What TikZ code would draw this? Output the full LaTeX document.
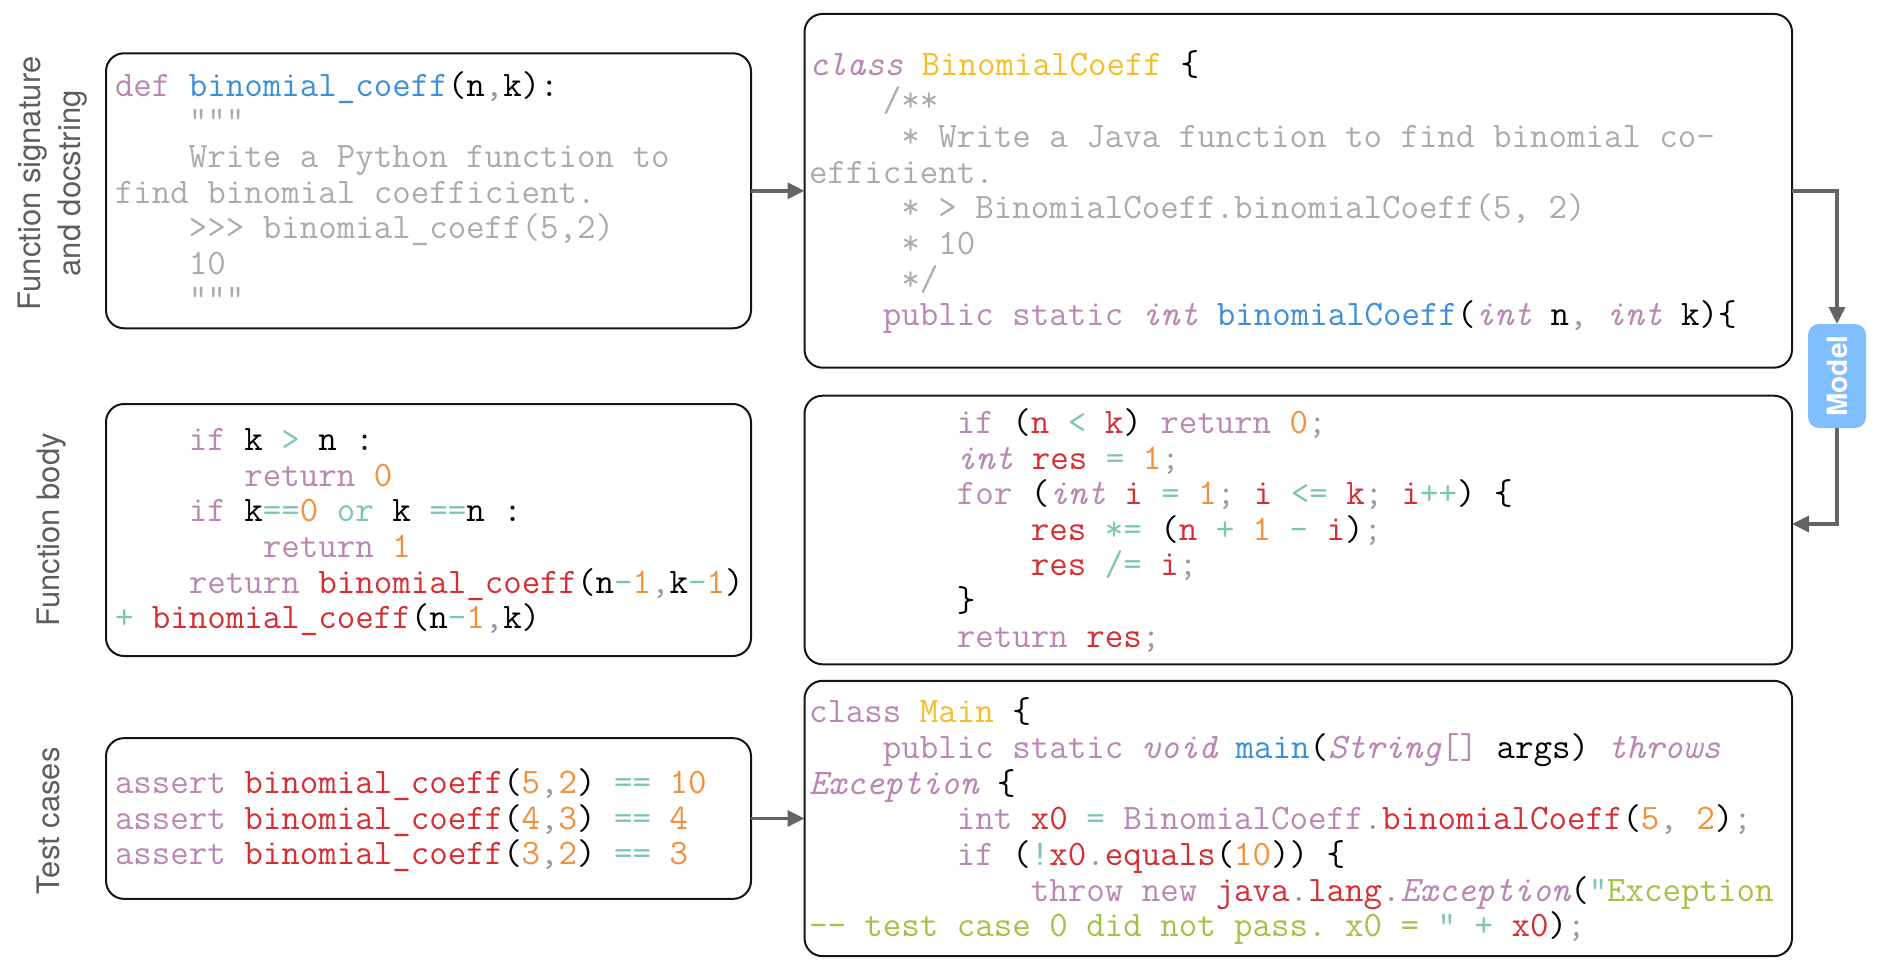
\documentclass[tikz,border=0pt]{standalone}
\usepackage{fontspec}
\newfontfamily\lblfont{TeX Gyre Heros}
\usetikzlibrary{arrows.meta}
\definecolor{ckw}{HTML}{BA86B4}
\definecolor{cfn}{HTML}{3B8ED8}
\definecolor{crd}{HTML}{D42E33}
\definecolor{cog}{HTML}{F0903C}
\definecolor{ctl}{HTML}{7CC4B6}
\definecolor{ccm}{HTML}{ABABAB}
\definecolor{cyl}{HTML}{F2BE2A}
\definecolor{cgr}{HTML}{A3C147}
\definecolor{cpn}{HTML}{9A9A9A}
\definecolor{lblgray}{HTML}{5E5E5E}
\definecolor{arrgray}{HTML}{646464}
\definecolor{modelblue}{HTML}{80BEFF}
\newcommand\cK[1]{\textcolor{ckw}{#1}}
\newcommand\cKI[1]{\textcolor{ckw}{\itshape #1}}
\newcommand\cF[1]{\textcolor{cfn}{#1}}
\newcommand\cR[1]{\textcolor{crd}{#1}}
\newcommand\cN[1]{\textcolor{cog}{#1}}
\newcommand\cO[1]{\textcolor{ctl}{#1}}
\newcommand\cC[1]{\textcolor{ccm}{#1}}
\newcommand\cY[1]{\textcolor{cyl}{#1}}
\newcommand\cG[1]{\textcolor{cgr}{#1}}
\newcommand\cP[1]{\textcolor{cpn}{#1}}
\newcommand\cS[1]{\hspace*{#1\fontcharwd\font`x}}
\newcommand\codefont{\ttfamily\fontsize{35.9}{36}\selectfont\frenchspacing}
\newcommand\CLn[4]{\node[codeline] (#1) at (#2,#3) {#4};}
\tikzset{
  codebox/.style={draw=black!92, line width=2pt, rounded corners=18pt, inner sep=0pt, outer sep=0pt},
  codeline/.style={anchor=base west, inner sep=0pt, outer sep=0pt, font=\codefont, yshift=-2pt},
  lbl/.style={rotate=90, anchor=base, inner sep=0pt, font=\lblfont\fontsize{31}{31}\selectfont, text=lblgray},
  conn/.style={draw=arrgray, line width=3.5pt, -{Triangle[length=17pt,width=16pt]}},
  pill/.style={fill=modelblue, rounded corners=11pt, inner sep=0pt, outer sep=0pt}
}
\begin{document}
\begin{tikzpicture}[x=1pt,y=-1pt]
\useasboundingbox (0,0) rectangle (1878,979);
% boxes
\node[codebox, minimum width=645pt, minimum height=275pt] (b1) at (428.5,190.8) {};
\node[codebox, minimum width=987.5pt, minimum height=353.7pt] (b2) at (1298.25,190.8) {};
\node[codebox, minimum width=645pt, minimum height=252pt] (b3) at (428.5,530) {};
\node[codebox, minimum width=987.5pt, minimum height=268.6pt] (b4) at (1298.25,530) {};
\node[codebox, minimum width=645pt, minimum height=160.7pt] (b5) at (428.5,818.5) {};
\node[codebox, minimum width=987.5pt, minimum height=275.3pt] (b6) at (1298.25,818.5) {};
% model pill
\node[pill, minimum width=58pt, minimum height=104pt] (model) at (1837,376) {};
\node[rotate=90, inner sep=0pt, text=white, font=\lblfont\bfseries\fontsize{28}{28}\selectfont] (modeltxt) at (model.center) {Model};
% left labels
\node[lbl] (lab1a) at (40,183.5) {Function signature};
\node[lbl] (lab1b) at (80,183.5) {and docstring};
\node[lbl] (lab2) at (59.6,530) {Function body};
\node[lbl] (lab3) at (59.6,820.7) {Test cases};
% box 1
\CLn{a1}{115}{94.3}{\cK{def} \cF{binomial\_coeff}(n\cP{,}k):}
\CLn{a2}{115}{129.9}{\cS4\cC{"""}}
\CLn{a3}{115}{165.5}{\cS4\cC{Write a Python function to}}
\CLn{a4}{115}{201.1}{\cC{find binomial coefficient.}}
\CLn{a5}{115}{236.7}{\cS4\cC{>>> binomial\_coeff(5,2)}}
\CLn{a6}{115}{272.3}{\cS4\cC{10}}
\CLn{a7}{115}{307.9}{\cS4\cC{"""}}
% box 2
\CLn{c1}{809}{74}{\cKI{class} \cY{BinomialCoeff} \{}
\CLn{c2}{809}{109.7}{\cS4\cC{/**}}
\CLn{c3}{809}{145.4}{\cS5\cC{* Write a Java function to find binomial co-}}
\CLn{c4}{809}{181.1}{\cC{efficient.}}
\CLn{c5}{809}{216.8}{\cS5\cC{* > BinomialCoeff.binomialCoeff(5, 2)}}
\CLn{c6}{809}{252.5}{\cS5\cC{* 10}}
\CLn{c7}{809}{288.2}{\cS5\cC{*/}}
\CLn{c8}{809}{323.9}{\cS4\cK{public static} \cKI{int} \cF{binomialCoeff}(\cKI{int} n\cP{,} \cKI{int} k)\{}
% box 3
\CLn{d1}{115}{448.3}{\cS4\cK{if} k \cO{>} n :}
\CLn{d2}{115}{484}{\cS7\cK{return} \cN{0}}
\CLn{d3}{115}{519.7}{\cS4\cK{if} k\cO{==}\cN{0} \cO{or} k \cO{==}n :}
\CLn{d4}{115}{555.4}{\cS8\cK{return} \cN{1}}
\CLn{d5}{115}{591.1}{\cS4\cK{return} \cR{binomial\_coeff}(n\cO{-}\cN{1}\cP{,}k\cO{-}\cN{1})}
\CLn{d6}{115}{626.8}{\cO{+} \cR{binomial\_coeff}(n\cO{-}\cN{1}\cP{,}k)}
% box 4
\CLn{e1}{809}{431.7}{\cS8\cK{if} (\cR{n} \cO{<} \cR{k}) \cK{return} \cN{0}\cP{;}}
\CLn{e2}{809}{467.25}{\cS8\cKI{int} \cR{res} \cO{=} \cN{1}\cP{;}}
\CLn{e3}{809}{502.8}{\cS8\cK{for} (\cKI{int} \cR{i} \cO{=} \cN{1}\cP{;} \cR{i} \cO{<=} \cR{k}\cP{;} \cR{i}\cO{++}) \{}
\CLn{e4}{809}{538.35}{\cS{12}\cR{res} \cO{*=} (\cR{n} \cO{+} \cN{1} \cO{-} \cR{i})\cP{;}}
\CLn{e5}{809}{573.9}{\cS{12}\cR{res} \cO{/=} \cR{i}\cP{;}}
\CLn{e6}{809}{609.45}{\cS8\}}
\CLn{e7}{809}{645}{\cS8\cK{return} \cR{res}\cP{;}}
% box 5
\CLn{f1}{115}{791.7}{\cK{assert} \cR{binomial\_coeff}(\cN{5}\cP{,}\cN{2}) \cO{==} \cN{10}}
\CLn{f2}{115}{827.2}{\cK{assert} \cR{binomial\_coeff}(\cN{4}\cP{,}\cN{3}) \cO{==} \cN{4}}
\CLn{f3}{115}{862.7}{\cK{assert} \cR{binomial\_coeff}(\cN{3}\cP{,}\cN{2}) \cO{==} \cN{3}}
% box 6
\CLn{g1}{809}{720.7}{\cK{class} \cY{Main} \{}
\CLn{g2}{809}{756.4}{\cS4\cK{public static} \cKI{void} \cF{main}(\cKI{String}\cK{[]} args) \cKI{throws}}
\CLn{g3}{809}{792.1}{\cKI{Exception} \{}
\CLn{g4}{809}{827.8}{\cS8\cK{int} \cR{x0} \cO{=} \cK{BinomialCoeff}\cP{.}\cR{binomialCoeff}(\cN{5}\cP{,} \cN{2})\cP{;}}
\CLn{g5}{809}{863.5}{\cS8\cK{if} (\cO{!}\cR{x0}\cP{.}\cR{equals}(\cN{10})) \{}
\CLn{g6}{809}{899.2}{\cS{12}\cK{throw new} \cR{java}\cP{.}\cR{lang}\cP{.}\cKI{Exception}(\cO{"}\cG{Exception}}
\CLn{g7}{809}{934.9}{\cG{-{}- test case 0 did not pass. x0 =} \cO{"} \cO{+} \cR{x0})\cP{;}}
% connectors
\draw[conn] (b1.east) -- (b2.west);
\draw[conn] (b5.east) -- (b6.west);
\draw[conn] (b2.east) -| (model.north);
\draw[conn] (model.south) |- ([yshift=6pt]b4.east);
\end{tikzpicture}
\end{document}
